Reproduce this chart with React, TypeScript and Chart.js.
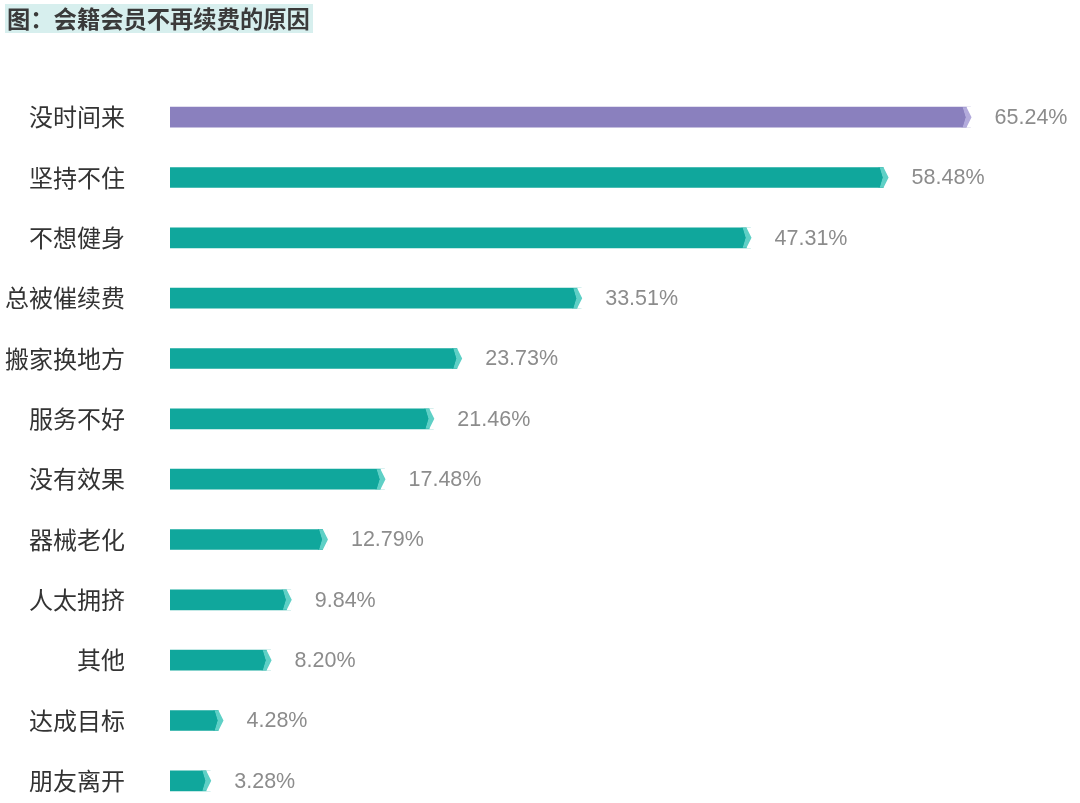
import React, { useEffect, useRef } from "react";
import { Chart, registerables } from "chart.js";

Chart.register(...registerables);

const TITLE = "图：会籍会员不再续费的原因";
const categories = ["没时间来", "坚持不住", "不想健身", "总被催续费", "搬家换地方", "服务不好", "没有效果", "器械老化", "人太拥挤", "其他", "达成目标", "朋友离开"];
const values = [65.24, 58.48, 47.31, 33.51, 23.73, 21.46, 17.48, 12.79, 9.84, 8.2, 4.28, 3.28];
const highlightIndex = 0;

const PURPLE = "#8a80be";
const TEAL = "#10a79c";
const PURPLE_TIP = "#b3abdc";
const TEAL_TIP = "#5fd0c6";

const endPlugin = {
  id: "barEnds",
  afterDatasetsDraw(chart: any) {
    const ctx = chart.ctx;
    const meta = chart.getDatasetMeta(0);
    ctx.save();
    meta.data.forEach((bar: any, i: number) => {
      const x = bar.x;
      const h = bar.height;
      const top = bar.y - h / 2;
      const bottom = bar.y + h / 2;
      const cy = bar.y;
      ctx.fillStyle = "#ffffff";
      ctx.fillRect(x - 4, top - 0.5, 5, h + 1);
      ctx.fillStyle = i === highlightIndex ? PURPLE_TIP : TEAL_TIP;
      ctx.beginPath();
      ctx.moveTo(x - 8, top);
      ctx.lineTo(x - 4, top);
      ctx.lineTo(x + 1, cy);
      ctx.lineTo(x - 4, bottom);
      ctx.lineTo(x - 8, bottom);
      ctx.lineTo(x - 5, cy);
      ctx.closePath();
      ctx.fill();
      ctx.fillStyle = i === highlightIndex ? PURPLE : TEAL;
      ctx.beginPath();
      ctx.moveTo(x - 9, top);
      ctx.lineTo(x - 8, top);
      ctx.lineTo(x - 5, cy);
      ctx.lineTo(x - 8, bottom);
      ctx.lineTo(x - 9, bottom);
      ctx.closePath();
      ctx.fill();
      ctx.fillStyle = "#8c8c8c";
      ctx.font = '21.5px "Liberation Sans", Arial, sans-serif';
      ctx.textAlign = "left";
      ctx.textBaseline = "middle";
      ctx.fillText(values[i].toFixed(2) + "%", x + 24, cy + 1);
    });
    ctx.restore();
  },
};

export default function App() {
  const ref = useRef<HTMLCanvasElement>(null);
  useEffect(() => {
    if (!ref.current) return;
    const chart = new Chart(ref.current, {
      type: "bar",
      data: {
        labels: categories,
        datasets: [
          {
            data: values,
            backgroundColor: values.map((_, i) => (i === highlightIndex ? PURPLE : TEAL)),
            barThickness: 20,
            borderWidth: 0,
          },
        ],
      },
      options: {
        indexAxis: "y",
        animation: false,
        responsive: true,
        maintainAspectRatio: false,
        layout: { padding: { top: 87, bottom: 1, left: 0, right: 0 } },
        plugins: { legend: { display: false }, tooltip: { enabled: false } },
        scales: {
          x: { display: false, min: 0, max: 74.16 },
          y: {
            grid: { display: false, drawTicks: false },
            border: { display: false },
            ticks: {
              padding: 45,
              color: "#333333",
              font: { size: 24, family: '"Noto Sans CJK SC", sans-serif' },
            },
            afterFit: (scale: any) => {
              scale.width = 170;
              scale.paddingTop = 0;
              scale.paddingBottom = 0;
            },
          },
        },
      },
      plugins: [endPlugin],
    });
    return () => chart.destroy();
  }, []);

  return (
    <div style={{ position: "fixed", left: 0, top: 0, width: 1080, height: 803, overflow: "hidden", background: "#fff" }}>
      <div style={{ position: "absolute", left: 0, top: 0, width: 1080, height: 812 }}>
        <canvas ref={ref} />
      </div>
      <div
        style={{
          position: "absolute",
          left: 5,
          top: 4,
          height: 29,
          width: 308,
          background: "#d7efee",
          color: "#3a3a3a",
          fontFamily: '"Noto Sans CJK SC", sans-serif',
          fontWeight: 700,
          fontSize: 23.3,
          lineHeight: "29px",
          paddingLeft: 2,
          whiteSpace: "nowrap",
          boxSizing: "border-box",
        }}
      >
        {TITLE}
      </div>
    </div>
  );
}
